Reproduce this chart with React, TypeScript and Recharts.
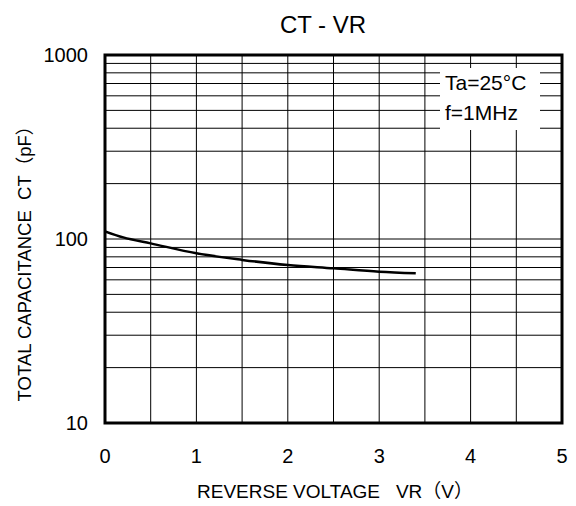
import React from "react";
import { LineChart, Line, XAxis, YAxis, ReferenceArea, ReferenceLine } from "recharts";

const voltage = [0, 0.2, 0.5, 1, 1.5, 2, 2.5, 3, 3.4];
const capacitance = [110, 102, 94.7, 83.6, 77, 72.2, 69.3, 66.4, 65.1];
const xTicks = [0, 1, 2, 3, 4, 5];
const yTicks = [10, 100, 1000];
const xGrid = [0.5, 1, 1.5, 2, 2.5, 3, 3.5, 4, 4.5];
const yGrid = [20, 30, 40, 50, 60, 70, 80, 90, 100, 200, 300, 400, 500, 600, 700, 800, 900];
const conditions = ["Ta=25°C", "f=1MHz"];

const data = voltage.map((v, i) => ({ vr: v, ct: capacitance[i] }));
const FONT = "'Liberation Sans', Arial, 'Noto Sans CJK JP', sans-serif";

export default function App() {
  return (
    <div style={{ position: "absolute", left: 0, top: 0, width: 576, height: 506, background: "#fff", fontFamily: FONT }}>
      <LineChart width={576} height={506} data={data} margin={{ top: 55, right: 14, left: 0, bottom: 0 }}>
        <XAxis
          dataKey="vr"
          type="number"
          domain={[0, 5]}
          ticks={xTicks}
          allowDataOverflow
          axisLine={false}
          tickLine={false}
          tickSize={6}
          tickMargin={20}
          height={83}
          tick={{ fill: "#000", fontSize: 20, fontFamily: FONT }}
        />
        <YAxis
          dataKey="ct"
          scale="log"
          type="number"
          domain={[10, 1000]}
          ticks={yTicks}
          allowDataOverflow
          axisLine={false}
          tickLine={false}
          tickSize={6}
          tickMargin={11}
          width={105}
          tick={{ fill: "#000", fontSize: 20, fontFamily: FONT }}
        />
        {xGrid.map((v) => (
          <ReferenceLine key={"x" + v} x={v} stroke="#000" strokeWidth={1} />
        ))}
        {yGrid.map((v) => (
          <ReferenceLine key={"y" + v} y={v} stroke="#000" strokeWidth={1} />
        ))}
        <ReferenceArea x1={0} x2={5} y1={10} y2={1000} fill="none" stroke="#000" strokeWidth={3} fillOpacity={0} />
        <Line
          type="monotone"
          dataKey="ct"
          stroke="#000"
          strokeWidth={2.5}
          dot={false}
          isAnimationActive={false}
        />
      </LineChart>
      <div style={{ position: "absolute", left: 0, top: 10, width: 646, textAlign: "center", fontSize: 24, lineHeight: "30px", whiteSpace: "nowrap" }}>
        CT - VR
      </div>
      <div style={{ position: "absolute", left: 0, top: 479, width: 670, textAlign: "center", fontSize: 19, lineHeight: "26px", whiteSpace: "nowrap" }}>
        REVERSE VOLTAGE&nbsp;&nbsp;&nbsp;VR（V）
      </div>
      <div
        style={{
          position: "absolute",
          left: 25 - 160,
          top: 259 - 13,
          width: 320,
          height: 26,
          lineHeight: "26px",
          textAlign: "center",
          fontSize: 18.5,
          transform: "rotate(-90deg)",
          whiteSpace: "nowrap",
        }}
      >
        TOTAL CAPACITANCE&nbsp;&nbsp;CT（pF）
      </div>
      <div
        style={{
          position: "absolute",
          left: 440,
          top: 68,
          width: 100,
          height: 62,
          background: "#fff",
          fontSize: 21,
          lineHeight: "30px",
          paddingLeft: 5,
          boxSizing: "border-box",
          whiteSpace: "nowrap",
        }}
      >
        {conditions.map((c) => (
          <div key={c}>{c}</div>
        ))}
      </div>
    </div>
  );
}
